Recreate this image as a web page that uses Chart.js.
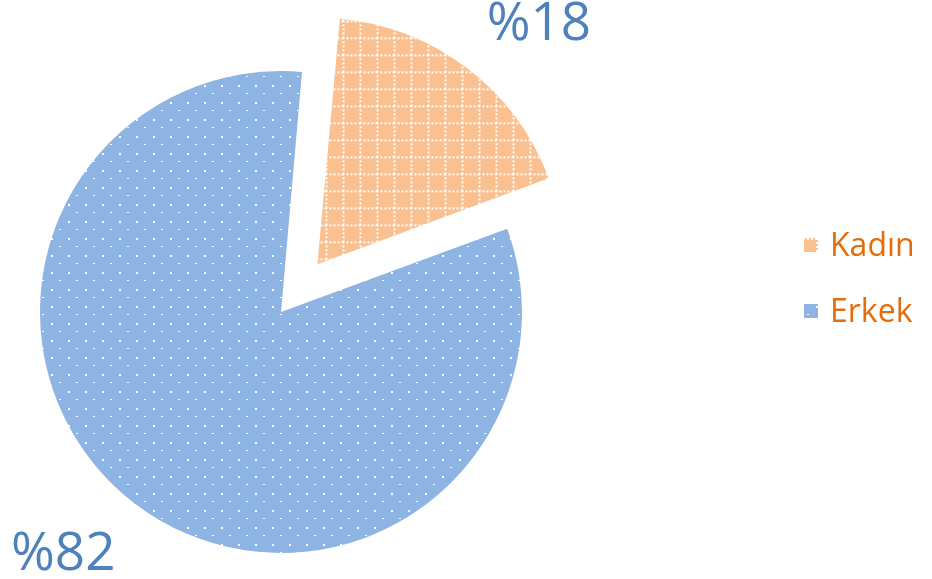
<!DOCTYPE html>
<html><head><meta charset="utf-8">
<script src="https://cdn.jsdelivr.net/npm/chart.js@4/dist/chart.umd.min.js"></script>
<style>html,body{margin:0;padding:0;background:#fff;}#wrap{width:932px;height:579px;position:relative;}</style>
</head><body><div id="wrap"><canvas id="c" width="932" height="579"></canvas></div>
<script>
const categories = ["Kadın", "Erkek"];
const values = [18, 82];
const valueLabels = ["%18", "%82"];
const baseColors = ["#FAC090", "#8EB4E3"];
const explode = [240, 0];

function gridPattern(bg) {
  const s = 17, c = document.createElement('canvas');
  c.width = s; c.height = s;
  const x = c.getContext('2d');
  x.fillStyle = bg; x.fillRect(0, 0, s, s);
  x.fillStyle = '#ffffff';
  for (let i = 0; i < s; i += 4) { x.fillRect(i, 0, 2, 2); x.fillRect(0, i, 2, 2); }
  return x.createPattern(c, 'repeat');
}
function dotPattern(bg) {
  const s = 17, c = document.createElement('canvas');
  c.width = s; c.height = s;
  const x = c.getContext('2d');
  x.fillStyle = bg; x.fillRect(0, 0, s, s);
  x.fillStyle = '#ffffff';
  x.fillRect(0, 0, 2, 2);
  x.fillRect(8, 8, 2, 1);
  return x.createPattern(c, 'repeat');
}
const fills = [gridPattern(baseColors[0]), dotPattern(baseColors[1])];

const labelPlugin = {
  id: 'outerLabels',
  afterDatasetsDraw(chart) {
    const ctx = chart.ctx;
    const meta = chart.getDatasetMeta(0);
    ctx.save();
    ctx.font = '53px "Open Sans"';
    ctx.fillStyle = '#4F81BD';
    ctx.textAlign = 'center';
    ctx.textBaseline = 'middle';
    meta.data.forEach((arc, i) => {
      const p = arc.getProps(['x', 'y', 'startAngle', 'endAngle', 'outerRadius']);
      const half = (p.startAngle + p.endAngle) / 2;
      const off = explode[i] / 4 * 1.1;
      const mid = half + 5 * Math.PI / 180;
      const r = p.outerRadius * 1.34;
      const x = p.x + Math.cos(half) * off + Math.cos(mid) * r;
      const y = p.y + Math.sin(half) * off + Math.sin(mid) * r + 4;
      ctx.fillText(valueLabels[i], x, y);
    });
    ctx.restore();
  }
};
const legendPlugin = {
  id: 'sideLegend',
  afterDraw(chart) {
    const ctx = chart.ctx;
    ctx.save();
    ctx.font = '32px "Open Sans"';
    ctx.textBaseline = 'alphabetic';
    categories.forEach((name, i) => {
      const base = 256 + i * 66;
      ctx.fillStyle = fills[i];
      ctx.fillRect(804, base - 18, 14, 14);
      ctx.fillStyle = '#E46C0A';
      ctx.fillText(name, 830, base);
    });
    ctx.restore();
  }
};

new Chart(document.getElementById('c'), {
  type: 'pie',
  data: {
    labels: categories,
    datasets: [{
      data: values,
      backgroundColor: fills,
      borderWidth: 0,
      offset: explode,
      hoverOffset: 0
    }]
  },
  options: {
    responsive: false,
    animation: false,
    rotation: 5,
    radius: 241,
    layout: { padding: { left: 0, right: 370, top: 45, bottom: 0 } },
    plugins: { legend: { display: false }, tooltip: { enabled: false } },
    events: []
  },
  plugins: [labelPlugin, legendPlugin]
});
</script>
</body></html>
